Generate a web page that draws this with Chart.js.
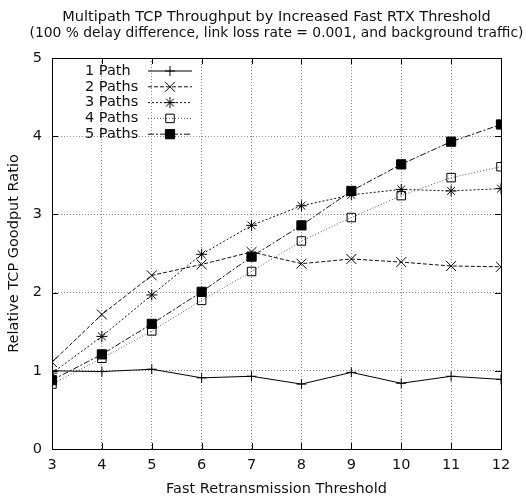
<!DOCTYPE html>
<html>
<head>
<meta charset="utf-8">
<script src="https://cdn.jsdelivr.net/npm/chart.js@4/dist/chart.umd.min.js"></script>
<style>
  body { margin: 0; background: #fff; }
  #wrap { width: 526px; height: 498px; }
</style>
</head>
<body>
<div id="wrap"><canvas id="tcp-chart" width="526" height="498"></canvas></div>
<script>
// values
const thresholds = [3, 4, 5, 6, 7, 8, 9, 10, 11, 12];
const onePath   = [1.00, 0.99, 1.02, 0.91, 0.93, 0.83, 0.98, 0.84, 0.93, 0.89];
const twoPaths  = [1.11, 1.72, 2.22, 2.36, 2.52, 2.37, 2.43, 2.39, 2.34, 2.33];
const threePaths = [0.97, 1.44, 1.97, 2.49, 2.86, 3.11, 3.25, 3.32, 3.30, 3.33];
const fourPaths = [0.83, 1.16, 1.51, 1.90, 2.27, 2.66, 2.96, 3.24, 3.47, 3.61];
const fivePaths = [0.88, 1.21, 1.60, 2.01, 2.46, 2.86, 3.30, 3.64, 3.93, 4.15];
const seriesNames = ['1 Path', '2 Paths', '3 Paths', '4 Paths', '5 Paths'];
const yTicks = [0, 1, 2, 3, 4, 5];
const titleLines = ['Multipath TCP Throughput by Increased Fast RTX Threshold',
                    '(100 % delay difference, link loss rate = 0.001, and background traffic)'];

const FONT = 'DejaVu Sans';
const FSIZE = 14.5;

function toPoints(values) {
    return thresholds.map((t, i) => ({ x: t, y: values[i] }));
}

// title centred over the plot area (gnuplot does that, not over the canvas)
const plotTitlePlugin = {
    id: 'plotTitle',
    afterDraw(chart) {
        const ctx = chart.ctx;
        const a = chart.chartArea;
        const cx = (a.left + a.right) / 2;
        ctx.save();
        ctx.font = FSIZE + 'px "' + FONT + '"';
        ctx.fillStyle = '#111';
        ctx.textAlign = 'center';
        ctx.textBaseline = 'middle';
        // keep the long second line inside the canvas
        titleLines.forEach((line, i) => ctx.fillText(line, cx, 17 + i * 16, 494));
        ctx.restore();
    }
};

// gnuplot style key: text on the left, sample line + marker on the right
const keyPlugin = {
    id: 'gnuKey',
    afterDatasetsDraw(chart) {
        const ctx = chart.ctx;
        const area = chart.chartArea;
        ctx.save();
        chart.data.datasets.forEach((ds, i) => {
            const y = area.top + 13 + i * 15.8;
            ctx.font = FSIZE + 'px "' + FONT + '"';
            ctx.fillStyle = '#111';
            ctx.textAlign = 'left';
            ctx.textBaseline = 'middle';
            ctx.fillText(ds.label, 85, y);
            ctx.strokeStyle = ds.borderColor;
            ctx.lineWidth = 1;
            ctx.setLineDash(ds.borderDash || []);
            ctx.beginPath();
            ctx.moveTo(148, y);
            ctx.lineTo(192, y);
            ctx.stroke();
            ctx.setLineDash([]);
            ctx.fillStyle = ds.pointBackgroundColor;
            ctx.strokeStyle = ds.pointBorderColor;
            Chart.helpers.drawPoint(ctx, {
                pointStyle: ds.pointStyle,
                radius: ds.pointRadius,
                borderWidth: 1,
                rotation: 0
            }, 170, y);
        });
        ctx.restore();
    }
};

// full border box with inward ticks on all four sides
const framePlugin = {
    id: 'frame',
    afterDraw(chart) {
        const ctx = chart.ctx;
        const a = chart.chartArea;
        const xs = chart.scales.x;
        const ys = chart.scales.y;
        ctx.save();
        ctx.strokeStyle = '#000';
        ctx.lineWidth = 1;
        ctx.strokeRect(a.left + 0.5, a.top + 0.5, a.right - a.left, a.bottom - a.top);
        ctx.beginPath();
        thresholds.forEach(t => {
            const px = Math.round(xs.getPixelForValue(t)) + 0.5;
            ctx.moveTo(px, a.bottom); ctx.lineTo(px, a.bottom - 6);
            ctx.moveTo(px, a.top); ctx.lineTo(px, a.top + 6);
        });
        yTicks.forEach(v => {
            const py = Math.round(ys.getPixelForValue(v)) + 0.5;
            ctx.moveTo(a.left, py); ctx.lineTo(a.left + 6, py);
            ctx.moveTo(a.right, py); ctx.lineTo(a.right - 6, py);
        });
        ctx.stroke();
        ctx.restore();
    }
};

const ctx = document.getElementById('tcp-chart').getContext('2d');
new Chart(ctx, {
    type: 'line',
    data: {
        datasets: [
            {
                label: seriesNames[0], data: toPoints(onePath),
                borderColor: '#000', borderWidth: 1, borderDash: [],
                pointStyle: 'cross', pointRadius: 5,
                pointBorderColor: '#000', pointBackgroundColor: '#000'
            },
            {
                label: seriesNames[1], data: toPoints(twoPaths),
                borderColor: '#111', borderWidth: 1, borderDash: [4, 2],
                pointStyle: 'crossRot', pointRadius: 7,
                pointBorderColor: '#000', pointBackgroundColor: '#000'
            },
            {
                label: seriesNames[2], data: toPoints(threePaths),
                borderColor: '#111', borderWidth: 1, borderDash: [2, 2],
                pointStyle: 'star', pointRadius: 5.5,
                pointBorderColor: '#000', pointBackgroundColor: '#000'
            },
            {
                label: seriesNames[3], data: toPoints(fourPaths),
                borderColor: '#555', borderWidth: 1, borderDash: [1, 2],
                pointStyle: 'rect', pointRadius: 6,
                pointBorderColor: '#000', pointBackgroundColor: 'rgba(255,255,255,0)'
            },
            {
                label: seriesNames[4], data: toPoints(fivePaths),
                borderColor: '#111', borderWidth: 1, borderDash: [6, 2, 2, 2],
                pointStyle: 'rect', pointRadius: 6.5,
                pointBorderColor: '#000', pointBackgroundColor: '#000'
            }
        ]
    },
    options: {
        responsive: false,
        animation: false,
        layout: { padding: { left: 0, right: 25, top: 58, bottom: 0 } },
        scales: {
            x: {
                type: 'linear',
                min: 3, max: 12,
                afterFit: function(scale) { scale.height = 49; },
                ticks: {
                    stepSize: 1, color: '#111', padding: 8,
                    font: { family: FONT, size: FSIZE }
                },
                grid: { color: '#888', drawTicks: false, tickLength: 0 },
                border: { display: false, dash: [1, 2] },
                title: {
                    display: true, text: 'Fast Retransmission Threshold',
                    color: '#111', font: { family: FONT, size: FSIZE },
                    padding: { top: 4, bottom: 0 }
                }
            },
            y: {
                min: 0, max: 5,
                afterFit: function(scale) { scale.width = 52; },
                afterBuildTicks: function(scale) { scale.ticks = yTicks.map(v => ({ value: v })); },
                ticks: {
                    color: '#111', padding: 10,
                    font: { family: FONT, size: FSIZE }
                },
                grid: { color: '#888', drawTicks: false, tickLength: 0 },
                border: { display: false, dash: [1, 2] },
                title: {
                    display: true, text: 'Relative TCP Goodput Ratio',
                    color: '#111', font: { family: FONT, size: FSIZE },
                    padding: { top: 6, bottom: 0 }
                }
            }
        },
        plugins: {
            legend: { display: false },
            tooltip: { enabled: false },
            title: { display: false }
        }
    },
    plugins: [framePlugin, keyPlugin, plotTitlePlugin]
});
</script>
</body>
</html>
